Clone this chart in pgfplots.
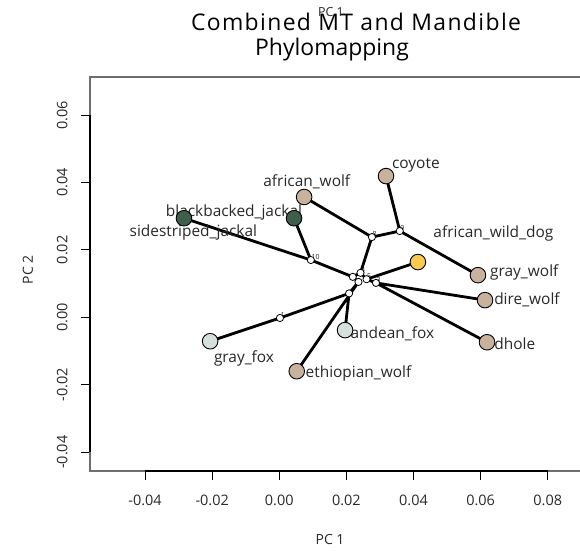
\documentclass[border=0pt]{standalone}
\usepackage{fontspec}
\setmainfont{Open Sans}
\usepackage{pgfplots}
\pgfplotsset{compat=1.18}
\definecolor{tipTan}{RGB}{200,178,158}
\definecolor{tipGreen}{RGB}{64,94,76}
\definecolor{tipYellow}{RGB}{250,202,78}
\definecolor{tipLight}{RGB}{214,224,221}
\definecolor{boxGray}{RGB}{110,110,110}
\definecolor{txt}{RGB}{40,40,40}
\begin{document}
\begin{tikzpicture}
\path[use as bounding box] (0,0) rectangle (580bp,551bp);
\begin{axis}[
  at={(90bp,80bp)}, anchor=south west,
  scale only axis, width=490bp, height=394bp,
  xmin=-0.0564, xmax=0.0896, ymin=-0.0456, ymax=0.0713,
  scaled ticks=false,
  axis line style={draw=none},
  xtick={-0.04,-0.02,0,0.02,0.04,0.06,0.08},
  xticklabels={-0.04,-0.02,0.00,0.02,0.04,0.06,0.08},
  ytick={-0.04,-0.02,0,0.02,0.04,0.06},
  yticklabels={-0.04,-0.02,0.00,0.02,0.04,0.06},
  xtick pos=bottom, ytick pos=left,
  tick align=outside, major tick length=9bp,
  tick style={black, line width=0.9bp},
  tick label style={font=\fontsize{14.5}{16}\selectfont, text=txt},
  xticklabel shift=12bp,
  yticklabel shift=10bp,
  yticklabel style={rotate=90, anchor=south},
  clip=false,
  unbounded coords=jump,
]
% tree edges
\addplot[black, line width=2.8bp] table[row sep=\\] {
x y \\
-0.0206 -0.0071 \\ 0.0002 -0.0002 \\ 0.0208 0.0071 \\ nan nan \\
0.0208 0.0071 \\ 0.0196 -0.0038 \\ nan nan \\
0.0208 0.0071 \\ 0.0236 0.0105 \\ nan nan \\
0.0236 0.0105 \\ 0.0052 -0.0160 \\ nan nan \\
0.0236 0.0105 \\ 0.0219 0.0120 \\ nan nan \\
0.0219 0.0120 \\ 0.0094 0.0170 \\ -0.0284 0.0294 \\ nan nan \\
0.0094 0.0170 \\ 0.0044 0.0294 \\ nan nan \\
0.0219 0.0120 \\ 0.0242 0.0132 \\ 0.0276 0.0238 \\ 0.0074 0.0357 \\ nan nan \\
0.0276 0.0238 \\ 0.0359 0.0256 \\ 0.0318 0.0419 \\ nan nan \\
0.0359 0.0256 \\ 0.0592 0.0125 \\ nan nan \\
0.0242 0.0132 \\ 0.0260 0.0113 \\ 0.0413 0.0164 \\ nan nan \\
0.0260 0.0113 \\ 0.0288 0.0102 \\ 0.0613 0.0051 \\ nan nan \\
0.0288 0.0102 \\ 0.0619 -0.0074 \\
};
% internal node labels
\tikzset{nl/.style={font=\fontsize{7}{8}\selectfont, text=txt, anchor=south west, inner sep=0.5pt}}
\node[nl] at (axis cs:0.0002,-0.0002) {1};
\node[nl] at (axis cs:0.0276,0.0238) {8};
\node[nl] at (axis cs:0.0359,0.0256) {9};
\node[nl] at (axis cs:0.0094,0.0170) {10};
\node[nl] at (axis cs:0.0242,0.0132) {4};
\node[nl] at (axis cs:0.0260,0.0113) {5};
\node[nl] at (axis cs:0.0288,0.0102) {3};
% internal nodes
\addplot[only marks, mark=*, mark size=3.6bp, mark options={fill=white, draw=black, line width=0.8bp}] coordinates {
(0.0002,-0.0002) (0.0208,0.0071) (0.0236,0.0105) (0.0219,0.0120) (0.0242,0.0132)
(0.0260,0.0113) (0.0288,0.0102) (0.0276,0.0238) (0.0359,0.0256) (0.0094,0.0170)
};
% tips
\addplot[only marks, mark=*, mark size=7.8bp, mark options={fill=tipTan, draw=black, line width=0.9bp}] coordinates {
(0.0318,0.0419) (0.0074,0.0357) (0.0592,0.0125) (0.0613,0.0051) (0.0619,-0.0074) (0.0052,-0.0160)
};
\addplot[only marks, mark=*, mark size=7.8bp, mark options={fill=tipGreen, draw=black, line width=0.9bp}] coordinates {
(0.0044,0.0294) (-0.0284,0.0294)
};
\addplot[only marks, mark=*, mark size=7.8bp, mark options={fill=tipYellow, draw=black, line width=0.9bp}] coordinates {
(0.0413,0.0164)
};
\addplot[only marks, mark=*, mark size=7.8bp, mark options={fill=tipLight, draw=black, line width=0.9bp}] coordinates {
(0.0196,-0.0038) (-0.0206,-0.0071)
};
% species labels
\tikzset{sp/.style={font=\fontsize{15.5}{17}\selectfont, text=txt, anchor=center, inner sep=0pt}}
\node[sp] at (axis cs:0.0407,0.0452) {coyote};
\node[sp] at (axis cs:0.0082,0.0401) {african\_wolf};
\node[sp] at (axis cs:-0.0135,0.0312) {blackbacked\_jackal};
\node[sp] at (axis cs:-0.0256,0.0253) {sidestriped\_jackal};
\node[sp] at (axis cs:0.0638,0.0250) {african\_wild\_dog};
\node[sp] at (axis cs:0.0730,0.0134) {gray\_wolf};
\node[sp] at (axis cs:0.0738,0.0051) {dire\_wolf};
\node[sp] at (axis cs:0.0337,-0.0050) {andean\_fox};
\node[sp] at (axis cs:0.0702,-0.0077) {dhole};
\node[sp] at (axis cs:-0.0105,-0.0121) {gray\_fox};
\node[sp] at (axis cs:0.0236,-0.0166) {ethiopian\_wolf};
% frame
\draw[boxGray, line width=1.4bp] (axis cs:0.0896,0.0713) -- (axis cs:-0.0564,0.0713) -- (axis cs:-0.0564,-0.0456) -- (axis cs:0.0896,-0.0456);
\draw[black, line width=1.1bp] (axis cs:-0.04,-0.0456) -- (axis cs:0.08,-0.0456);
\draw[black, line width=1.1bp] (axis cs:-0.0564,-0.04) -- (axis cs:-0.0564,0.06);
\end{axis}
\node[font=\fontsize{14}{16}\selectfont, text=txt] at (330bp,11bp) {PC 1};
\node[font=\fontsize{14}{16}\selectfont, text=txt, rotate=90] at (28bp,281bp) {PC 2};
\node[font=\fontsize{23}{26}\selectfont\addfontfeatures{LetterSpace=6}, text=black] at (356bp,529bp) {Combined MT and Mandible};
\node[font=\fontsize{23}{26}\selectfont, text=black] at (332bp,501bp) {Phylomapping};
\node[font=\fontsize{12.5}{14}\selectfont, text=txt] at (331bp,539bp) {PC 1};
\end{tikzpicture}
\end{document}
